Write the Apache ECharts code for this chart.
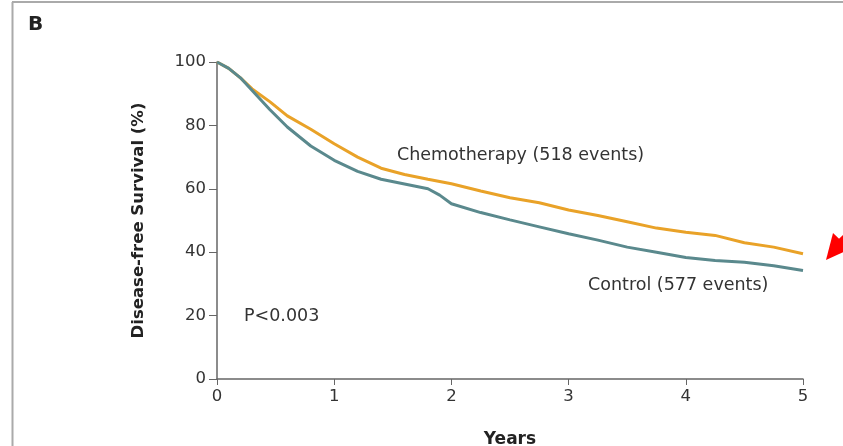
<!DOCTYPE html>
<html>
<head>
<meta charset="utf-8">
<script src="https://cdn.jsdelivr.net/npm/echarts@6/dist/echarts.min.js"></script>
<style>
  html, body { margin: 0; padding: 0; background: #fff; }
  #chart { width: 843px; height: 446px; }
</style>
</head>
<body>
<div id="chart"></div>
<script>
// time points (years)
var years = [0, 0.1, 0.2, 0.3, 0.45, 0.6, 0.8, 1.0, 1.2, 1.4, 1.6, 1.8, 1.9, 2.0, 2.25, 2.5, 2.75, 3.0, 3.25, 3.5, 3.75, 4.0, 4.25, 4.5, 4.75, 5.0];
var chemoSurvival = [100, 98, 95, 91.5, 87.5, 83, 78.8, 74.2, 70, 66.5, 64.5, 63, 62.3, 61.6, 59.3, 57.2, 55.6, 53.3, 51.6, 49.6, 47.6, 46.3, 45.3, 43, 41.6, 39.5];
var controlSurvival = [100, 98, 95, 91, 85, 79.5, 73.5, 69, 65.5, 63, 61.5, 60, 58, 55.3, 52.5, 50.2, 48, 45.8, 43.8, 41.6, 40, 38.3, 37.4, 36.8, 35.7, 34.2];
var xTicks = [0, 1, 2, 3, 4, 5];
var yTicks = [0, 20, 40, 60, 80, 100];

function pairs(ys) {
    return years.map(function (x, i) { return [x, ys[i]]; });
}

var myChart = echarts.init(document.getElementById('chart'));
var font = 'DejaVu Sans';

var option = {
    backgroundColor: '#fff',
    animation: false,
    grid: { left: 217, right: 40, top: 62, bottom: 67, containLabel: false, outerBoundsMode: 'none' },
    xAxis: {
        type: 'value',
        min: xTicks[0],
        max: xTicks[xTicks.length - 1],
        interval: 1,
        name: 'Years',
        nameLocation: 'middle',
        nameGap: 52,
        nameTextStyle: { fontFamily: font, fontSize: 17, fontWeight: 'bold', color: '#222' },
        axisLine: { lineStyle: { color: '#666', width: 1.5 } },
        axisTick: { length: 6, lineStyle: { color: '#666' } },
        axisLabel: { fontFamily: font, fontSize: 16.5, color: '#333', margin: 9 },
        splitLine: { show: false }
    },
    yAxis: {
        type: 'value',
        min: yTicks[0],
        max: yTicks[yTicks.length - 1],
        interval: 20,
        name: 'Disease-free Survival (%)',
        nameLocation: 'middle',
        nameGap: 70,
        nameTextStyle: { fontFamily: font, fontSize: 16.5, fontWeight: 'bold', color: '#222' },
        axisLine: { show: true, lineStyle: { color: '#666', width: 1.5 } },
        axisTick: { show: true, length: 8, lineStyle: { color: '#666' } },
        axisLabel: { fontFamily: font, fontSize: 16.5, color: '#333', margin: 11 },
        splitLine: { show: false }
    },
    series: [
        {
            name: 'Chemotherapy',
            type: 'line',
            showSymbol: false,
            data: pairs(chemoSurvival),
            lineStyle: { color: '#E9A228', width: 3 },
            itemStyle: { color: '#E9A228' }
        },
        {
            name: 'Control',
            type: 'line',
            showSymbol: false,
            data: pairs(controlSurvival),
            lineStyle: { color: '#5A898D', width: 3 },
            itemStyle: { color: '#5A898D' }
        }
    ],
    graphic: [
        // frame
        { type: 'line', shape: { x1: 12, y1: 2, x2: 843, y2: 2 }, style: { stroke: '#aaa', lineWidth: 2 } },
        { type: 'line', shape: { x1: 12.5, y1: 2, x2: 12.5, y2: 446 }, style: { stroke: '#aaa', lineWidth: 2 } },
        { type: 'text', x: 28, y: 25, style: { text: 'B', fontFamily: font, fontSize: 20, fontWeight: 'bold', fill: '#222', verticalAlign: 'middle' } },
        { type: 'text', x: 397, y: 155, style: { text: 'Chemotherapy (518 events)', fontFamily: font, fontSize: 17.5, fill: '#333', verticalAlign: 'middle' } },
        { type: 'text', x: 588, y: 285, style: { text: 'Control (577 events)', fontFamily: font, fontSize: 17.5, fill: '#333', verticalAlign: 'middle' } },
        { type: 'text', x: 244, y: 316, style: { text: 'P<0.003', fontFamily: font, fontSize: 17.5, fill: '#333', verticalAlign: 'middle' } },
        // red arrow at right edge
        { type: 'polygon', shape: { points: [[826, 260], [833, 233], [850, 249]] }, style: { fill: '#f00' } },
        { type: 'line', shape: { x1: 840, y1: 242, x2: 870, y2: 214 }, style: { stroke: '#f00', lineWidth: 6 } }
    ]
};

myChart.setOption(option);
</script>
</body>
</html>
